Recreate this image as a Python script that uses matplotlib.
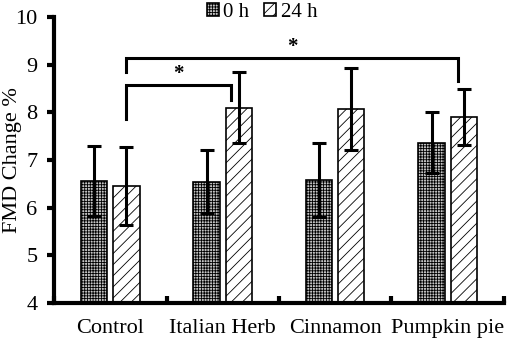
import matplotlib
matplotlib.use("Agg")
import matplotlib.pyplot as plt
import numpy as np

plt.rcParams['font.family'] = ['Liberation Serif', 'DejaVu Serif']
plt.rcParams['hatch.linewidth'] = 0.6

# data
categories = ['Control', 'Italian Herb', 'Cinnamon', 'Pumpkin pie']
mean_0h = [6.56, 6.54, 6.58, 7.36]
err_0h = [0.74, 0.66, 0.77, 0.64]
mean_24h = [6.46, 8.10, 8.07, 7.91]
err_24h = [0.82, 0.75, 0.86, 0.59]
series_labels = ['0 h', '24 h']

fig = plt.figure(figsize=(5.1, 3.44), dpi=100)
ax = fig.add_axes([0.106, 0.12, 0.882, 0.83])

x = np.arange(len(categories))
w = 0.235
off = 0.143

ax.bar(x - off, mean_0h, w, color='#c4c4c4', edgecolor='black',
       hatch='++++++', linewidth=1.2, label=series_labels[0])
ax.bar(x + off, mean_24h, w, color='white', edgecolor='black',
       hatch='///', linewidth=1.2, label=series_labels[1])
ax.errorbar(x - off, mean_0h, yerr=err_0h, fmt='none', ecolor='black',
            elinewidth=2.2, capsize=5, capthick=2.2)
ax.errorbar(x + off, mean_24h, yerr=err_24h, fmt='none', ecolor='black',
            elinewidth=2.2, capsize=5, capthick=2.2)

# significance brackets
def bracket(x1, x2, y, yl, yr, ax):
    ax.plot([x1, x1, x2, x2], [yl, y, y, yr], color='black', lw=2.2,
            solid_joinstyle='miter', clip_on=False)
    ax.text((x1 + x2) / 2, y + 0.02, '*', ha='center', va='bottom',
            fontsize=15, fontweight='bold')

bracket(x[0] + off, x[1] + off - 0.07, 8.58, 7.86, 8.26, ax)
bracket(x[0] + off, x[3] + off - 0.05, 9.15, 8.84, 8.66, ax)

ax.set_xlim(-0.5, len(categories) - 0.5)
ax.set_ylim(4, 10)
ax.set_yticks(range(4, 11))
ax.set_xticks(np.arange(-0.5, len(categories), 1.0))
ax.set_xticklabels([])
ax.set_xticks(x, minor=True)
ax.set_xticklabels(categories, minor=True, fontsize=16)
ax.tick_params(axis='x', which='minor', length=0, pad=12)
ax.tick_params(axis='x', which='major', direction='in', length=5, width=3)
ax.tick_params(axis='y', direction='out', length=5, width=3, labelsize=16, pad=7)
ax.set_ylabel('FMD Change %', fontsize=16)
ax.yaxis.set_label_coords(-0.072, 0.5)

for s in ['top', 'right']:
    ax.spines[s].set_visible(False)
for s in ['left', 'bottom']:
    ax.spines[s].set_linewidth(3)

ax.legend(ncol=2, loc='center', bbox_to_anchor=(0.462, 1.018), frameon=False,
          fontsize=15, handlelength=0.6, handleheight=0.6, handletextpad=0.2,
          columnspacing=0.7, borderaxespad=0, borderpad=0)

fig.savefig('out.png', dpi=100)
